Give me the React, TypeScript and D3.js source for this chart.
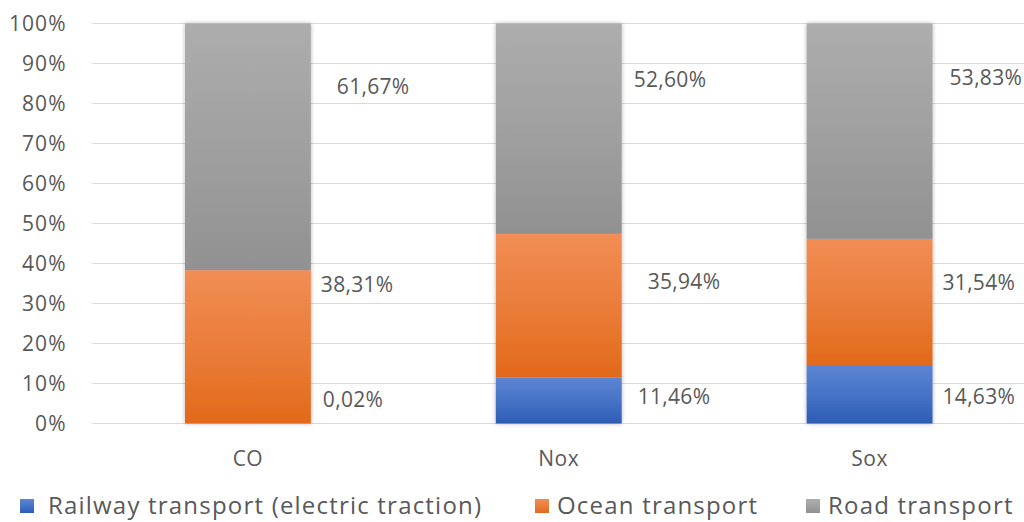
import React from 'react'
import * as d3 from 'd3'

const categories = ['CO', 'Nox', 'Sox']
const seriesNames = ['Railway transport (electric traction)', 'Ocean transport', 'Road transport']
const railway = [0.02, 11.46, 14.63]
const ocean = [38.31, 35.94, 31.54]
const road = [61.67, 52.6, 53.83]
const yTicks = [0, 10, 20, 30, 40, 50, 60, 70, 80, 90, 100]
// where Excel put the value labels (in % of the axis), per category: [railway, ocean, road]
const labelAt = [
  [5.9, 34.6, 84.2],
  [6.6, 35.4, 85.9],
  [6.6, 35.1, 86.4],
]
const labelDx = [
  [12, 10, 26],
  [16, 26, 12],
  [10, 10, 17],
]

const W = 1024
const H = 522
const margin = { top: 23.5, right: -1, bottom: 98.5, left: 92.5 }
const font = '"Open Sans", "DejaVu Sans", sans-serif'
const textColor = '#595959'

const grads = [
  { id: 'g-rail', top: '#5d85d3', bottom: '#2d5cb6' },
  { id: 'g-ocean', top: '#f18d55', bottom: '#e2691a' },
  { id: 'g-road', top: '#adadad', bottom: '#919191' },
]

export default function App() {
  const plotW = W - margin.left - margin.right
  const plotH = H - margin.top - margin.bottom

  const x = d3.scaleBand<string>()
    .domain(categories)
    .range([0, plotW])
    .paddingInner(0.595)
    .paddingOuter(0.2975)

  const y = d3.scaleLinear().domain([0, 100]).range([plotH, 0])

  const rows = categories.map((c, i) => ({ cat: c, rail: railway[i], ocean: ocean[i], road: road[i] }))
  const stack = d3.stack<any>().keys(['rail', 'ocean', 'road'])(rows)

  const fmt = (v: number) => v.toFixed(2).replace('.', ',') + '%'

  const legendItems = [
    { sq: 20, tx: 48 },
    { sq: 535, tx: 557 },
    { sq: 806, tx: 828 },
  ]

  return (
    <svg width={W} height={H} style={{ position: 'absolute', left: 0, top: 0, background: '#fff' }}
      fontFamily={font}>
      <defs>
        {grads.map(g => (
          <linearGradient key={g.id} id={g.id} x1="0" y1="0" x2="0" y2="1">
            <stop offset="0%" stopColor={g.top} />
            <stop offset="50%" stopColor={d3.interpolateRgb(g.top, g.bottom)(0.45)} />
            <stop offset="100%" stopColor={g.bottom} />
          </linearGradient>
        ))}
        <filter id="shadow" x="-10%" y="-5%" width="120%" height="110%">
          <feDropShadow dx="0" dy="0" stdDeviation="2" floodColor="#000" floodOpacity="0.3" />
        </filter>
      </defs>

      <g transform={`translate(${margin.left},${margin.top})`}>
        {yTicks.map(t => (
          <line key={t} x1={0} x2={plotW} y1={y(t)} y2={y(t)} stroke="#d9d9d9" strokeWidth={1} />
        ))}
        {yTicks.map(t => (
          <text key={'l' + t} x={-26} y={y(t)} dy="0.35em" textAnchor="end" fontSize={21}
            letterSpacing={1} fill={textColor}>
            {t}%
          </text>
        ))}

        {categories.map((c, i) => (
          <g key={c} filter="url(#shadow)">
            {stack.map((s, k) => {
              const d = s[i]
              const h = y(d[0]) - y(d[1])
              return (
                <rect key={k} x={x(c)} y={y(d[1])} width={x.bandwidth()} height={Math.max(h, 0)}
                  fill={`url(#${grads[k].id})`} />
              )
            })}
          </g>
        ))}

        {categories.map((c, i) => (
          <g key={'lab' + c}>
            {stack.map((s, k) => {
              const d = s[i]
              return (
                <text key={k} x={(x(c) as number) + x.bandwidth() + labelDx[i][k]} y={y(labelAt[i][k])}
                  dy="0.35em" fontSize={21} letterSpacing={0.3} fill={textColor}>
                  {fmt(d[1] - d[0])}
                </text>
              )
            })}
          </g>
        ))}

        {categories.map(c => (
          <text key={'c' + c} x={(x(c) as number) + x.bandwidth() / 2} y={plotH + 35} dy="0.35em"
            textAnchor="middle" fontSize={21} letterSpacing={0.5} fill={textColor}>
            {c}
          </text>
        ))}
      </g>

      {seriesNames.map((n, k) => (
        <g key={n}>
          <rect x={legendItems[k].sq} y={499} width={14} height={14} fill={`url(#${grads[k].id})`} />
          <text x={legendItems[k].tx} y={506} dy="0.35em" fontSize={24} letterSpacing={1.2}
            fill={textColor}>{n}</text>
        </g>
      ))}
    </svg>
  )
}
